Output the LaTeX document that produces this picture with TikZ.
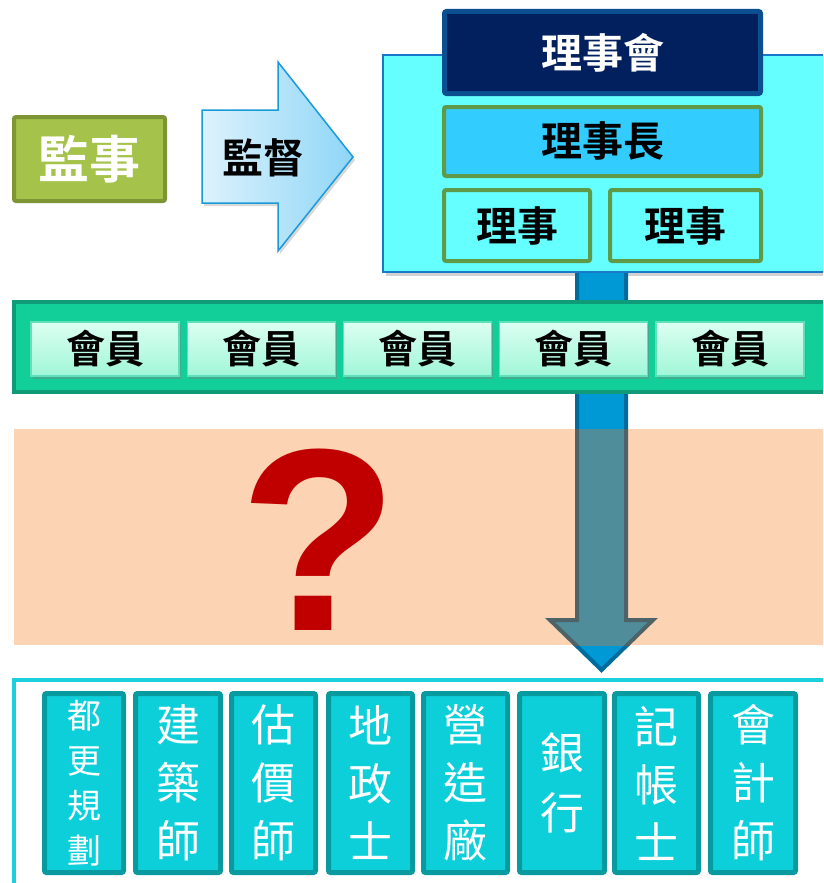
\documentclass[tikz,border=0pt]{standalone}
\usepackage{fontspec}
\newfontfamily\cjk{Noto Sans CJK TC}
\newfontfamily\cjkb{Noto Sans CJK TC Bold}
\newfontfamily\qfont{Liberation Sans}
\usetikzlibrary{shadows}
\definecolor{jsFill}{HTML}{A5C24A}
\definecolor{jsBord}{HTML}{7D9535}
\definecolor{arL}{HTML}{DDF2FC}
\definecolor{arR}{HTML}{8FD6F7}
\definecolor{arB}{HTML}{1A9AD6}
\definecolor{cyanFill}{HTML}{66FFFF}
\definecolor{cyanBord}{HTML}{1A78C8}
\definecolor{navyFill}{HTML}{03205E}
\definecolor{navyBord}{HTML}{0C4F90}
\definecolor{skyFill}{HTML}{33CCFF}
\definecolor{grnBord}{HTML}{5E9A48}
\definecolor{shaftFill}{HTML}{0099D6}
\definecolor{shaftBord}{HTML}{006B9C}
\definecolor{shaftFillB}{HTML}{4E8D99}
\definecolor{shaftBordB}{HTML}{4E6367}
\definecolor{memOutFill}{HTML}{12CF99}
\definecolor{memOutBord}{HTML}{0F9B78}
\definecolor{memTop}{HTML}{DCFFF2}
\definecolor{memBot}{HTML}{A0F6D8}
\definecolor{memBord}{HTML}{5EE0B8}
\definecolor{bandFill}{HTML}{FCD3B3}
\definecolor{qred}{HTML}{C00000}
\definecolor{botBord}{HTML}{1BD0DC}
\definecolor{proFill}{HTML}{0CCFD9}
\definecolor{proBord}{HTML}{089A9F}
\tikzset{
  topbox/.style={rounded corners=2pt, inner sep=0pt, font=\cjkb\fontsize{41}{41}\selectfont},
  membox/.style={draw=memBord, line width=1.5pt, top color=memTop, bottom color=memBot,
    minimum width=148pt, minimum height=54pt, inner sep=0pt,
    drop shadow={shadow xshift=1.5pt, shadow yshift=-3pt, opacity=.45},
    font=\cjkb\fontsize{39}{39}\selectfont},
  probox/.style={draw=proBord, fill=proFill, line width=5pt, rounded corners=2pt,
    minimum height=179pt, inner sep=0pt, text=white, align=center},
  proA/.style={font=\cjk\fontsize{44}{58}\selectfont},
  proB/.style={font=\cjk\fontsize{34}{45}\selectfont},
  proC/.style={font=\cjk\fontsize{44}{60}\selectfont}
}
\begin{document}
\begin{tikzpicture}[x=1pt,y=-1pt]
\useasboundingbox (0,0) rectangle (823,883);
\clip (0,0) rectangle (823,883);
\fill[white] (0,0) rectangle (823,883);

% supervisor
\node[draw=jsBord, fill=jsFill, line width=4pt, rounded corners=2pt, minimum width=151pt,
  minimum height=84pt, inner sep=0pt, text=white, font=\cjkb\fontsize{51}{51}\selectfont]
  (js) at (89.5,159) {監事};

% supervise arrow
\path[left color=arL, right color=arR, draw=arB, line width=1.5pt,
  drop shadow={shadow xshift=2pt, shadow yshift=-3pt, opacity=.3}]
  (202,110) -- (278,110) -- (278,62) -- (353,157) -- (278,251) -- (278,203) -- (202,203) -- cycle;
\node[font=\cjkb\fontsize{41}{41}\selectfont, inner sep=0pt] (jd) at (263,158) {監督};

% board container
\path[fill=cyanFill, draw=cyanBord, line width=2pt,
  drop shadow={shadow xshift=3pt, shadow yshift=-4pt, opacity=.35}]
  (383,55) rectangle (840,272);
\coordinate (boardBottom) at (601.5,272);

% board boxes
\node[topbox, draw=navyBord, fill=navyFill, line width=5pt, minimum width=316pt,
  minimum height=82pt, text=white] (lsh) at (602.5,52.5) {理事會};
\node[topbox, draw=grnBord, fill=skyFill, line width=4pt, minimum width=317pt,
  minimum height=69pt] (lsz) at (602.5,141.5) {理事長};
\node[topbox, draw=grnBord, fill=cyanFill, line width=4pt, minimum width=146pt,
  minimum height=71pt] (ls1) at (517,225.5) {理事};
\node[topbox, draw=grnBord, fill=cyanFill, line width=4pt, minimum width=151pt,
  minimum height=71pt] (ls2) at (685.5,225.5) {理事};

% shaft + arrow (blue)
\coordinate (tip) at (601.5,670);
\fill[shaftFill] (577,273) -- (577,620) -- (550,620) -- (tip) -- (653,620) -- (626,620) -- (626,273) -- cycle;
\draw[shaftBord, line width=4pt, line join=miter]
  (577,273) -- (577,620) -- (550,620) -- (tip) -- (653,620) -- (626,620) -- (626,273);

% members
\path[fill=memOutFill, draw=memOutBord, line width=4pt] (14,302) rectangle (840,392);
\node[membox] (m1) at (105,349) {會員};
\node[membox] (m2) at (261.5,349) {會員};
\node[membox] (m3) at (417.5,349) {會員};
\node[membox] (m4) at (573.5,349) {會員};
\node[membox] (m5) at (730,349) {會員};

% band
\fill[bandFill] (14,429) rectangle (840,645);
\begin{scope}
\clip (14,429) rectangle (840,645);
\fill[shaftFillB] (577,273) -- (577,620) -- (550,620) -- (tip) -- (653,620) -- (626,620) -- (626,273) -- cycle;
\draw[shaftBordB, line width=4pt, line join=miter]
  (577,273) -- (577,620) -- (550,620) -- (tip) -- (653,620) -- (626,620) -- (626,273);
\end{scope}
\node[font=\qfont\bfseries\fontsize{260}{260}\selectfont, text=qred, anchor=base,
  inner sep=0pt] (q) at (319,630) {?};

% bottom container
\draw[botBord, line width=4pt] (14,900) -- (14,680) -- (840,680);

% professions
\node[probox, proB, minimum width=79pt] (p1) at (84,783) {都\\更\\規\\劃};
\node[probox, proA, minimum width=85pt] (p2) at (178,783) {建\\築\\師};
\node[probox, proA, minimum width=84pt] (p3) at (273.5,783) {估\\價\\師};
\node[probox, proA, minimum width=84pt] (p4) at (370.5,783) {地\\政\\士};
\node[probox, proA, minimum width=84pt] (p5) at (465.5,783) {營\\造\\廠};
\node[probox, proC, minimum width=85pt] (p6) at (562,783) {銀\\行};
\node[probox, proA, minimum width=84pt] (p7) at (656.5,783) {記\\帳\\士};
\node[probox, proA, minimum width=85pt] (p8) at (753,783) {會\\計\\師};
\end{tikzpicture}
\end{document}
